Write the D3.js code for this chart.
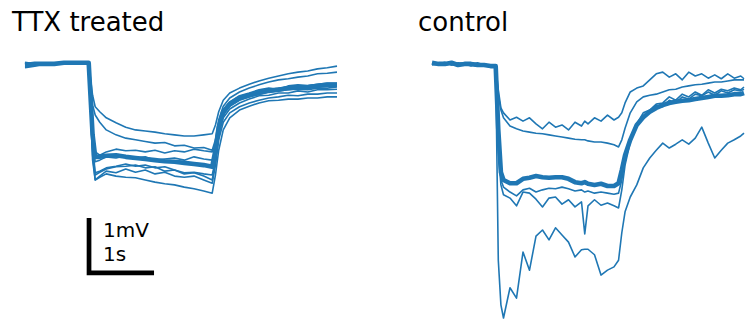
<!DOCTYPE html>
<html>
<head>
<meta charset="utf-8">
<script src="https://cdn.jsdelivr.net/npm/d3@7"></script>
<style>
  body { margin: 0; background: #fff; }
  text { font-family: "DejaVu Sans", sans-serif; fill: #000; }
</style>
</head>
<body>
<svg id="traces" width="752" height="324"></svg>
<script>
// time points (s) and membrane potential (mV, relative to baseline)
const timeTTX = [0, 0.15, 0.3, 0.45, 0.6, 0.75, 0.9, 0.98, 1.04, 1.08, 1.15, 1.25, 1.4, 1.55, 1.7, 1.85, 2.0, 2.15, 2.3, 2.45, 2.6, 2.75, 2.88, 2.93, 2.98, 3.05, 3.15, 3.3, 3.45, 3.6, 3.75, 3.9, 4.05, 4.2, 4.35, 4.5, 4.65, 4.8];

const ttxTraces = [
  [0.02, 0.02, 0.02, 0.04, 0.04, 0.05, 0.04, 0.02, -0.55, -0.76, -0.85, -0.96, -1.05, -1.13, -1.18, -1.20, -1.22, -1.25, -1.27, -1.29, -1.29, -1.27, -1.25, -1.09, -0.85, -0.64, -0.51, -0.42, -0.35, -0.29, -0.24, -0.20, -0.16, -0.13, -0.11, -0.07, -0.05, -0.02],
  [-0.02, 0, 0.02, 0.02, 0.04, 0.02, 0.04, 0.04, -0.73, -0.91, -1.04, -1.18, -1.27, -1.33, -1.36, -1.39, -1.42, -1.41, -1.47, -1.46, -1.51, -1.50, -1.55, -1.36, -1.00, -0.75, -0.60, -0.49, -0.42, -0.36, -0.31, -0.27, -0.25, -0.22, -0.20, -0.16, -0.15, -0.13],
  [0.04, 0.02, 0, 0.02, 0.04, 0.04, 0.05, 0.04, -1.18, -1.58, -1.64, -1.58, -1.53, -1.56, -1.55, -1.58, -1.55, -1.60, -1.56, -1.58, -1.53, -1.56, -1.58, -1.45, -1.09, -0.82, -0.67, -0.56, -0.51, -0.45, -0.42, -0.44, -0.38, -0.36, -0.38, -0.35, -0.33, -0.33],
  [0, 0.02, 0.04, 0.02, 0.04, 0.02, 0.04, 0.02, -1.36, -1.76, -1.73, -1.67, -1.69, -1.65, -1.69, -1.67, -1.73, -1.71, -1.69, -1.73, -1.67, -1.71, -1.73, -1.55, -1.18, -0.91, -0.75, -0.64, -0.58, -0.53, -0.49, -0.47, -0.45, -0.44, -0.45, -0.42, -0.42, -0.40],
  [-0.04, 0, 0.02, 0.04, 0.02, 0.04, 0.04, 0.04, -1.55, -2.00, -1.95, -1.89, -1.85, -1.84, -1.82, -1.87, -1.85, -1.93, -1.91, -1.96, -1.95, -1.98, -2.00, -1.73, -1.27, -0.96, -0.80, -0.69, -0.62, -0.56, -0.55, -0.51, -0.51, -0.47, -0.49, -0.45, -0.45, -0.44],
  [-0.05, -0.02, 0.02, 0.02, 0.04, 0.02, 0.02, 0.04, -1.64, -2.09, -2.02, -1.93, -1.96, -1.89, -1.95, -1.91, -1.98, -1.95, -2.02, -2.04, -2.02, -2.09, -2.15, -1.82, -1.36, -1.04, -0.87, -0.76, -0.69, -0.64, -0.60, -0.58, -0.55, -0.56, -0.53, -0.53, -0.51, -0.51],
  [0.05, 0.02, 0, 0.02, 0.02, 0.04, 0.04, 0.02, -1.45, -1.96, -1.93, -1.87, -1.84, -1.80, -1.84, -1.82, -1.87, -1.85, -1.91, -1.98, -1.96, -2.02, -2.09, -1.76, -1.22, -0.89, -0.71, -0.60, -0.53, -0.47, -0.44, -0.42, -0.40, -0.38, -0.38, -0.36, -0.35, -0.35],
  [0, 0, 0.02, 0.02, 0.04, 0.04, 0.02, 0.04, -1.73, -2.09, -2.04, -1.98, -2.02, -2.04, -2.05, -2.09, -2.13, -2.16, -2.18, -2.22, -2.25, -2.29, -2.33, -2.00, -1.55, -1.18, -0.96, -0.82, -0.75, -0.69, -0.65, -0.64, -0.62, -0.62, -0.60, -0.60, -0.58, -0.58]
];

const ttxMean = [0, 0.02, 0.02, 0.02, 0.04, 0.04, 0.04, 0.04, -1.27, -1.67, -1.67, -1.65, -1.64, -1.67, -1.69, -1.71, -1.73, -1.75, -1.76, -1.78, -1.80, -1.82, -1.85, -1.55, -1.13, -0.85, -0.71, -0.60, -0.55, -0.51, -0.47, -0.45, -0.42, -0.40, -0.40, -0.38, -0.36, -0.36];

const timeCtrl = [0, 0.1, 0.2, 0.3, 0.4, 0.5, 0.6, 0.7, 0.8, 0.9, 0.98, 1.02, 1.06, 1.1, 1.2, 1.3, 1.4, 1.5, 1.6, 1.7, 1.8, 1.9, 2.0, 2.1, 2.2, 2.3, 2.35, 2.4, 2.5, 2.6, 2.7, 2.8, 2.87, 2.92, 2.97, 3.05, 3.15, 3.25, 3.35, 3.45, 3.55, 3.65, 3.75, 3.85, 3.95, 4.05, 4.15, 4.25, 4.35, 4.45, 4.55, 4.65, 4.75, 4.8];

const ctrlTraces = [
  [0.04, 0.02, 0.05, 0, 0.04, 0.02, -0.02, 0.02, 0, -0.02, -0.02, -0.45, -0.78, -0.87, -1.00, -0.95, -1.02, -0.96, -1.07, -1.16, -1.04, -1.13, -1.09, -1.18, -1.04, -1.11, -1.02, -1.07, -0.96, -1.02, -0.91, -1.00, -0.95, -0.87, -0.69, -0.49, -0.42, -0.38, -0.27, -0.16, -0.13, -0.22, -0.16, -0.27, -0.13, -0.20, -0.16, -0.24, -0.18, -0.25, -0.16, -0.24, -0.20, -0.25],
  [0.02, 0.04, 0.02, 0.02, 0, 0.02, 0, -0.02, 0, -0.02, -0.04, -0.55, -0.82, -0.96, -1.11, -1.16, -1.20, -1.22, -1.24, -1.25, -1.27, -1.29, -1.31, -1.33, -1.35, -1.36, -1.36, -1.38, -1.40, -1.40, -1.42, -1.45, -1.49, -1.36, -1.15, -0.87, -0.67, -0.58, -0.55, -0.53, -0.49, -0.45, -0.44, -0.40, -0.38, -0.36, -0.35, -0.33, -0.31, -0.31, -0.29, -0.27, -0.27, -0.27],
  [0.02, 0.04, 0, 0.02, 0.02, 0, 0.04, 0.02, -0.02, 0, -0.02, -1.36, -2.09, -2.22, -2.31, -2.38, -2.27, -2.24, -2.31, -2.27, -2.24, -2.25, -2.22, -2.25, -2.29, -2.27, -2.31, -2.29, -2.33, -2.31, -2.33, -2.35, -2.33, -2.09, -1.73, -1.36, -1.07, -0.87, -0.82, -0.71, -0.69, -0.58, -0.64, -0.53, -0.58, -0.49, -0.55, -0.45, -0.51, -0.44, -0.47, -0.42, -0.45, -0.40],
  [0, 0.02, 0.04, 0, 0.02, 0.04, 0, 0.02, 0, -0.04, -0.02, -1.55, -2.18, -2.36, -2.42, -2.56, -2.31, -2.33, -2.44, -2.58, -2.42, -2.40, -2.53, -2.45, -2.58, -2.49, -3.07, -2.56, -2.45, -2.55, -2.51, -2.56, -2.60, -2.27, -1.82, -1.40, -1.11, -0.95, -0.85, -0.73, -0.76, -0.64, -0.69, -0.58, -0.62, -0.53, -0.56, -0.49, -0.55, -0.47, -0.51, -0.45, -0.47, -0.44],
  [0.02, 0, 0.04, 0.02, -0.02, 0.02, 0, 0.04, 0, -0.02, -0.04, -3.55, -4.36, -4.60, -4.05, -4.24, -3.40, -3.73, -3.11, -3.00, -3.18, -2.96, -3.09, -3.22, -3.49, -3.36, -3.35, -3.35, -3.45, -3.82, -3.73, -3.67, -3.55, -3.05, -2.67, -2.40, -2.18, -1.87, -1.69, -1.55, -1.42, -1.51, -1.44, -1.36, -1.44, -1.33, -1.13, -1.42, -1.69, -1.55, -1.42, -1.36, -1.29, -1.24]
];

const ctrlMean = [0.04, 0.02, 0.02, 0.04, 0, 0.02, 0.02, 0, 0, -0.02, -0.02, -1.18, -1.95, -2.09, -2.15, -2.15, -2.07, -2.05, -2.02, -2.04, -2.05, -2.04, -2.04, -2.07, -2.13, -2.15, -2.13, -2.16, -2.18, -2.16, -2.20, -2.20, -2.15, -1.91, -1.64, -1.36, -1.09, -0.95, -0.85, -0.78, -0.73, -0.69, -0.67, -0.65, -0.64, -0.62, -0.60, -0.58, -0.56, -0.56, -0.55, -0.53, -0.53, -0.51];

const panelTitles = ["TTX treated", "control"];
const scaleBarSize = [1, 1];          // [mV, s]
const scaleBarLabels = ["1mV", "1s"];

const color = "#1f77b4";

function drawPanel(svg, time, traces, mean, x, y) {
  const line = d3.line()
    .x((d, i) => x(time[i]))
    .y(d => y(d));

  svg.append("g")
    .selectAll("path")
    .data(traces)
    .enter().append("path")
      .attr("fill", "none")
      .attr("stroke", color)
      .attr("stroke-width", 1.6)
      .attr("stroke-linejoin", "round")
      .attr("d", line);

  svg.append("path")
    .datum(mean)
    .attr("fill", "none")
    .attr("stroke", color)
    .attr("stroke-width", 4.6)
    .attr("stroke-linejoin", "round")
    .attr("d", line);
}

function render() {
  const svg = d3.select("#traces");

  y = d3.scaleLinear()
    .domain([-4.8, 0.4])
    .range([329, 43]);

  xTTX = d3.scaleLinear().domain([0, 4.8]).range([25, 337]);
  xCtrl = d3.scaleLinear().domain([0, 4.8]).range([432, 744]);

  drawPanel(svg, timeTTX, ttxTraces, ttxMean, xTTX, y);
  drawPanel(svg, timeCtrl, ctrlTraces, ctrlMean, xCtrl, y);

  // titles
  svg.append("text").attr("x", 12).attr("y", 31)
    .style("font-size", "26px").text(panelTitles[0]);
  svg.append("text").attr("x", 418).attr("y", 31)
    .style("font-size", "26px").text(panelTitles[1]);

  // scale bar, placed in the TTX panel's coordinates
  const t0 = 0.985, v0 = -3.78;
  svg.append("path")
    .attr("fill", "none")
    .attr("stroke", "#000")
    .attr("stroke-width", 4.7)
    .attr("d", `
      M${xTTX(t0)},${y(v0 + scaleBarSize[0])}
      V${y(v0)}
      H${xTTX(t0 + scaleBarSize[1])}
    `);

  svg.append("text").attr("x", 103).attr("y", 237)
    .style("font-size", "20px").text(scaleBarLabels[0]);
  svg.append("text").attr("x", 103).attr("y", 261)
    .style("font-size", "20px").text(scaleBarLabels[1]);
}

render();
</script>
</body>
</html>
